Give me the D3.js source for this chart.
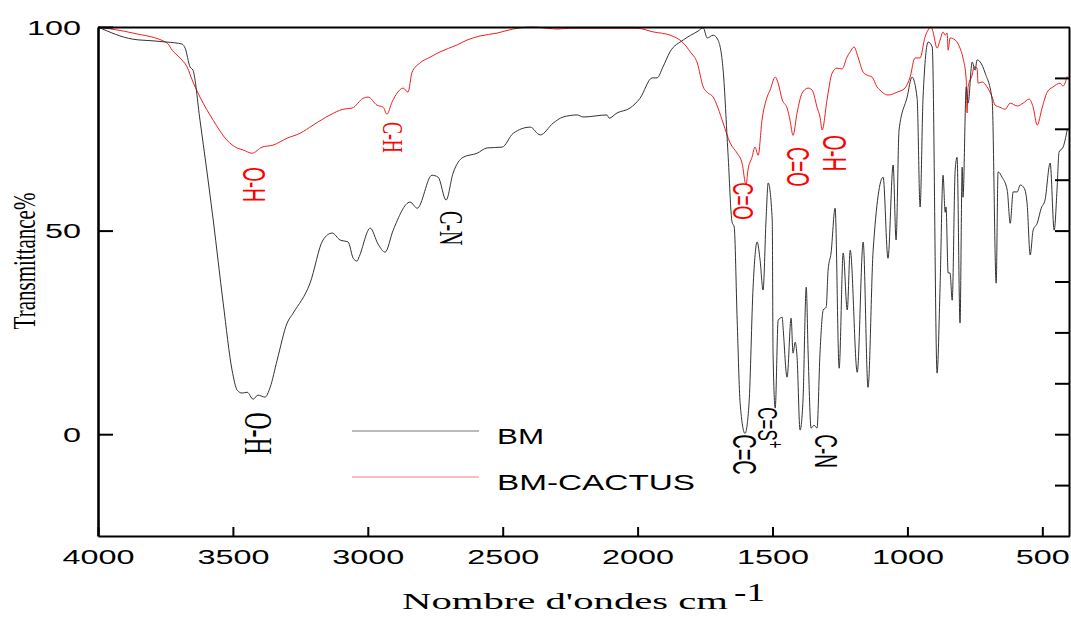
<!DOCTYPE html>
<html>
<head>
<meta charset="utf-8">
<script src="https://cdn.jsdelivr.net/npm/d3@7"></script>
<style>
  html, body { margin: 0; padding: 0; background: #fff; }
  #chart { width: 1071px; height: 618px; }
  .axis path, .axis line { stroke: #000; }
</style>
</head>
<body>
<div id="chart"></div>
<script>
// FTIR spectra: [wavenumber (cm-1), transmittance %]
var bmSpectrum = [
  [4000,100.0],[3870,97.0],[3796,96.6],[3744,96.3],[3688,95.8],[3677,94.8],[3659,90.2],[3648,89.4],
  [3622,77.1],[3573,52.6],[3536,32.2],[3503,15.7],[3484,10.8],[3466,10.1],[3447,10.3],[3425,8.6],
  [3407,9.6],[3381,9.1],[3362,11.5],[3336,18.2],[3299,27.3],[3277,29.7],[3214,37.1],[3166,47.7],
  [3132,49.4],[3103,47.7],[3073,47.2],[3054,43.2],[3040,42.5],[3032,43.6],[2991,50.6],[2962,46.7],[2936,44.7],
  [2906,50.1],[2843,57.0],[2817,55.5],[2762,63.6],[2739,63.1],[2710,57.5],[2684,64.1],[2647,68.0],
  [2595,69.0],[2558,70.3],[2502,70.5],[2461,73.9],[2398,75.4],[2361,73.5],[2313,76.4],[2276,77.9],
  [2224,78.4],[2202,77.9],[2113,78.4],[2106,77.6],[2076,78.9],[2028,80.1],[1991,82.5],[1946,87.5],
  [1928,87.5],[1906,90.2],[1880,93.9],[1831,96.8],[1776,99.0],[1757,99.8],[1742,97.3],[1720,98.0],
  [1702,96.8],[1683,89.4],[1665,69.0],[1650,52.1],[1642,50.9],[1631,28.0],[1620,7.6],[1602,0.2],
  [1587,7.6],[1572,36.1],[1557,47.2],[1546,42.7],[1535,35.4],[1524,52.6],[1516,61.7],[1501,52.6],
  [1498,19.9],[1490,6.4],[1479,28.0],[1464,28.7],[1461,26.3],[1446,14.0],[1431,28.5],[1424,19.9],
  [1416,22.6],[1409,18.9],[1398,1.0],[1387,8.4],[1375,36.1],[1368,19.9],[1357,1.5],[1346,2.2],
  [1335,1.5],[1324,19.9],[1312,30.5],[1301,31.2],[1294,40.3],[1283,44.5],[1268,55.5],[1253,16.2],
  [1238,44.5],[1223,30.5],[1212,45.2],[1186,15.2],[1164,47.2],[1146,11.5],[1127,45.2],[1090,63.1],
  [1072,43.2],[1053,66.1],[1042,47.7],[1031,74.7],[1001,82.8],[983,87.7],[964,82.5],[953,55.8],
  [942,82.8],[923,96.3],[908,95.1],[890,15.0],[879,36.1],[868,63.6],[860,54.5],[857,55.8],
  [849,39.6],[842,39.6],[834,32.9],[823,64.9],[816,68.0],[805,27.3],[797,65.6],[794,58.2],
  [782,85.3],[775,81.3],[760,91.4],[749,89.4],[742,91.9],[730,91.4],[712,88.7],[686,82.1],
  [671,37.1],[664,64.4],[649,63.1],[630,59.9],[619,51.8],[608,59.5],[593,59.5],[582,61.2],
  [567,60.4],[556,56.3],[545,44.0],[534,50.1],[519,51.8],[504,55.5],[490,57.5],[471,66.6],
  [456,50.1],[445,60.7],[438,69.3],[423,70.5],[408,74.7]
];

var cactusSpectrum = [
  [4000,100.0],[3870,98.5],[3744,96.1],[3725,94.3],[3696,92.4],[3670,90.2],[3648,86.5],[3622,82.8],
  [3573,77.1],[3522,72.2],[3485,70.3],[3462,69.8],[3429,69.0],[3392,70.5],[3351,71.0],[3299,72.7],
  [3251,73.9],[3203,75.9],[3140,78.4],[3092,79.8],[3058,80.1],[3017,82.5],[2999,82.8],[2966,80.8],
  [2943,80.3],[2929,78.6],[2910,81.6],[2891,83.8],[2869,85.0],[2851,84.0],[2836,88.9],[2806,91.2],
  [2769,92.6],[2732,93.9],[2669,95.6],[2632,96.8],[2584,97.8],[2521,98.5],[2462,99.5],[2387,100.0],
  [2335,99.7],[2298,99.5],[2250,99.7],[2176,99.7],[2076,99.7],[2002,99.7],[1943,98.8],[1880,98.0],
  [1831,96.1],[1805,93.9],[1779,91.2],[1757,85.3],[1739,83.8],[1720,82.8],[1702,80.1],[1683,76.4],
  [1657,71.5],[1631,69.0],[1613,66.6],[1598,61.2],[1591,64.9],[1576,68.0],[1565,70.5],[1553,68.5],
  [1539,77.1],[1520,82.8],[1509,84.5],[1490,87.7],[1479,86.2],[1464,82.1],[1446,80.1],[1435,77.1],
  [1424,73.4],[1409,78.9],[1390,83.8],[1368,85.0],[1353,84.5],[1335,80.3],[1324,77.9],[1316,74.7],
  [1298,82.1],[1279,88.7],[1261,89.9],[1242,89.7],[1224,92.6],[1212,93.9],[1198,95.1],[1183,92.6],
  [1164,88.9],[1150,88.2],[1131,87.7],[1113,85.3],[1098,84.3],[1090,83.8],[1072,83.3],[1038,84.0],
  [1009,85.0],[990,87.7],[972,92.4],[953,92.4],[935,97.5],[923,99.3],[912,100.0],[905,98.8],
  [890,94.8],[879,96.8],[868,98.8],[860,98.0],[853,98.5],[849,94.3],[842,97.3],[823,96.8],
  [805,94.8],[794,92.4],[782,87.0],[779,78.9],[775,85.3],[760,88.2],[753,90.2],[742,89.9],
  [738,86.2],[723,86.5],[705,85.3],[686,82.8],[675,80.8],[657,80.3],[638,79.8],[619,81.3],
  [593,80.6],[571,81.3],[549,82.3],[534,80.3],[519,75.9],[501,80.1],[482,84.0],[460,85.3],
  [434,86.2],[423,85.5],[408,87.9]
];

var seriesNames = ["BM", "BM-CACTUS"];
var xTicks = [4000, 3500, 3000, 2500, 2000, 1500, 1000, 500];
var yTicks = [0, 50, 100];
var yMinorTicks = [-12.5, 0, 12.5, 25, 37.5, 50, 62.5, 75, 87.5];

// Band assignments: [label, wavenumber, transmittance, colour, font, size]
var bands = [
  ["O-H", 3462, 65.6, "red", "sans", 19],
  ["C-H", 2943, 76.7, "red", "serif", 18],
  ["C-N", 2732, 54.8, "black", "serif", 20],
  ["O-H", 3455, 5.4, "black", "serif", 24],
  ["C=O", 1646, 61.9, "red", "sans", 18],
  ["C=O", 1446, 70.5, "red", "sans", 19],
  ["O-H", 1312, 73.5, "red", "sans", 20],
  ["C=C", 1646, 0.0, "black", "sans", 20],
  ["C=S", 1553, 6.6, "black", "sans", 17],
  ["C-N", 1342, 0.0, "black", "sans", 19]
];

(function(d3) {
  var
  W = 1071, H = 618,
  plot = { left: 98, right: 1069, top: 27, bottom: 536 },
  sans = "'Liberation Sans', Arial, sans-serif",
  serif = "'Liberation Serif', 'Times New Roman', serif",
  stretch = 1.66   // the source picture is stretched horizontally
  ;

  var svg = d3.select("#chart").append("svg")
      .attr("width", W)
      .attr("height", H);

  var x = d3.scaleLinear().domain([4000, 400]).range([plot.left, 1069.3]);
  var y = d3.scaleLinear().domain([-25, 100]).range([plot.bottom, plot.top]);

  // Spectra
  var line = d3.line()
      .x(function(d) { return x(d[0]); })
      .y(function(d) { return y(d[1]); })
      .curve(d3.curveMonotoneX);

  svg.append("path").datum(cactusSpectrum)
      .attr("d", line)
      .attr("fill", "none")
      .attr("stroke", "#f21d1d")
      .attr("stroke-width", 1);

  svg.append("path").datum(bmSpectrum)
      .attr("d", line)
      .attr("fill", "none")
      .attr("stroke", "#333")
      .attr("stroke-width", 1);

  // Axes / frame
  var bottom = svg.append("g").attr("class", "axis")
      .attr("transform", "translate(0," + plot.bottom + ")")
      .call(d3.axisBottom(x).tickValues(xTicks).tickFormat(d3.format("d"))
        .tickSizeInner(-9).tickSizeOuter(0));

  bottom.selectAll("text")
      .attr("y", 28).attr("dy", null)
      .attr("transform", "scale(" + stretch + ",1)");

  var left = svg.append("g").attr("class", "axis")
      .attr("transform", "translate(" + plot.left + ",0)")
      .call(d3.axisLeft(y).tickValues(yTicks).tickFormat(d3.format("d"))
        .tickSizeInner(-15).tickSizeOuter(0));

  left.selectAll("text")
      .attr("x", -17 / stretch).attr("y", 7).attr("dy", null)
      .attr("transform", "scale(" + stretch + ",1)");

  svg.append("g").attr("class", "axis")
      .attr("transform", "translate(" + plot.right + ",0)")
      .call(d3.axisRight(y).tickValues(yMinorTicks).tickSizeInner(-14).tickSizeOuter(0).tickFormat(""));

  svg.append("g").attr("class", "axis")
      .attr("transform", "translate(0," + plot.top + ")")
      .call(d3.axisTop(x).tickValues([]).tickSizeOuter(0));

  svg.selectAll(".axis")
      .attr("font-family", sans)
      .attr("font-size", 19.5)
      .attr("fill", "#000");
  svg.selectAll(".axis path").attr("stroke-width", 2);
  svg.selectAll(".axis line").attr("stroke-width", 2);
  left.select("path").attr("stroke-width", 2.6);

  // Band labels, rotated to read top to bottom
  var labels = svg.append("g").selectAll("text")
      .data(bands)
    .enter().append("text")
      .attr("transform", function(d) {
        return "translate(" + x(d[1]) + "," + y(d[2]) + ") scale(" + stretch + ",1) rotate(90)";
      })
      .attr("font-family", function(d) { return d[4] == "serif" ? serif : sans; })
      .attr("font-size", function(d) { return d[5]; })
      .attr("fill", function(d) { return d[3] == "red" ? "#ff0000" : "#000"; })
      .text(function(d) { return d[0]; });

  labels.filter(function(d) { return d[0] == "C=S"; })
    .append("tspan")
      .attr("font-size", 13)
      .attr("dy", -6)
      .text("+");

  // Legend
  var legend = svg.append("g");
  var legendColours = ["#777", "#f07a7a"];
  var legendY = [431, 477];

  seriesNames.forEach(function(name, i) {
    legend.append("line")
        .attr("x1", 352).attr("x2", 479)
        .attr("y1", legendY[i]).attr("y2", legendY[i])
        .attr("stroke", legendColours[i])
        .attr("stroke-width", 1);
    legend.append("text")
        .attr("x", 497).attr("y", legendY[i] + 13)
        .attr("font-family", sans)
        .attr("font-size", 22)
        .attr("textLength", i == 0 ? 47 : 198)
        .attr("lengthAdjust", "spacingAndGlyphs")
        .text(name);
  });

  // Axis titles
  svg.append("text")
      .attr("transform", "translate(35,261) scale(1.55,1) rotate(-90)")
      .attr("text-anchor", "middle")
      .attr("font-family", serif)
      .attr("font-size", 21)
      .text("Transmittance%");

  svg.append("text")
      .attr("x", 402).attr("y", 609)
      .attr("font-family", serif)
      .attr("font-size", 24)
      .attr("textLength", 326)
      .attr("lengthAdjust", "spacingAndGlyphs")
      .text("Nombre d'ondes cm");

  svg.append("text")
      .attr("x", 734).attr("y", 601)
      .attr("font-family", serif)
      .attr("font-size", 25)
      .attr("textLength", 31)
      .attr("lengthAdjust", "spacingAndGlyphs")
      .text("-1");
})(d3);
</script>
</body>
</html>
